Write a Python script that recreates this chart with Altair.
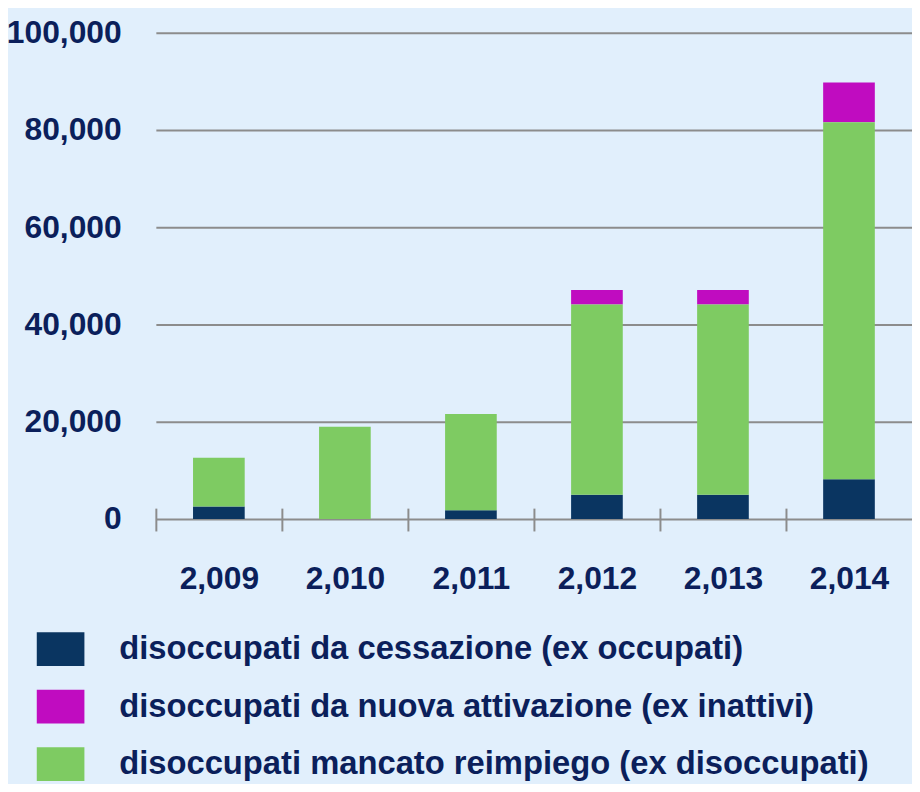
import altair as alt
import pandas as pd

years = [2009, 2010, 2011, 2012, 2013, 2014]
year_labels = ["2,009", "2,010", "2,011", "2,012", "2,013", "2,014"]
series_names = [
    "disoccupati da cessazione (ex occupati)",
    "disoccupati da nuova attivazione (ex inattivi)",
    "disoccupati mancato reimpiego (ex disoccupati)",
]
cessazione = [2600, 0, 1800, 5000, 5000, 8200]
nuova_attivazione = [0, 0, 0, 3000, 3000, 8200]
mancato_reimpiego = [10000, 19000, 19800, 39100, 39100, 73400]
colors = ["#0a3561", "#c00cc0", "#7ecb62"]
stack_order = [0, 2, 1]

rows = []
for name, vals, so in zip(series_names, [cessazione, nuova_attivazione, mancato_reimpiego], stack_order):
    for y, lab, v in zip(years, year_labels, vals):
        rows.append({"year": lab, "serie": name, "value": v, "so": so})
df = pd.DataFrame(rows)

FONT = "Liberation Sans"
TXT = "#0b1f5b"
GRID = "#8c8c8c"
W = 762
STEP = W / 6

bars = alt.Chart(df).mark_bar().encode(
    x=alt.X("year:N", sort=year_labels,
            scale=alt.Scale(paddingInner=0.59, paddingOuter=0.295),
            axis=alt.Axis(title=None, domain=False, offset=-11, tickSize=23,
                          tickOffset=-STEP / 2, labelOffset=STEP / 2,
                          tickColor=GRID, tickWidth=2,
                          labelAngle=0, labelPadding=33,
                          labelFont=FONT, labelFontSize=32, labelFontWeight="bold",
                          labelColor=TXT, labelBaseline="top")),
    y=alt.Y("value:Q", stack="zero",
            scale=alt.Scale(domain=[0, 100000]),
            axis=alt.Axis(title=None, domain=False, ticks=False,
                          values=[0, 20000, 40000, 60000, 80000, 100000],
                          format=",.0f", gridColor=GRID, gridWidth=2, labelPadding=35,
                          labelFont=FONT, labelFontSize=32, labelFontWeight="bold",
                          labelColor=TXT)),
    color=alt.Color("serie:N", sort=series_names,
                    scale=alt.Scale(domain=series_names, range=colors),
                    legend=alt.Legend(title=None, orient="none", legendX=-120, legendY=597,
                                      direction="vertical",
                                      symbolType="M-1,-0.71H1V0.71H-1Z", symbolSize=2304,
                                      symbolStrokeWidth=0, symbolOpacity=1,
                                      labelFont=FONT, labelFontSize=33, labelFontWeight="bold",
                                      labelColor=TXT, labelOffset=35, rowPadding=16,
                                      labelLimit=900)),
    order=alt.Order("so:Q"),
)

chart = bars.properties(
    width=W, height=490,
    autosize=alt.AutoSizeParams(type="none"),
    padding={"left": 149, "top": 22, "right": 0, "bottom": 264},
    background="#e1effc",
).configure_view(stroke=None)

chart.save("out.html", embed_options={"renderer": "svg", "actions": False})
